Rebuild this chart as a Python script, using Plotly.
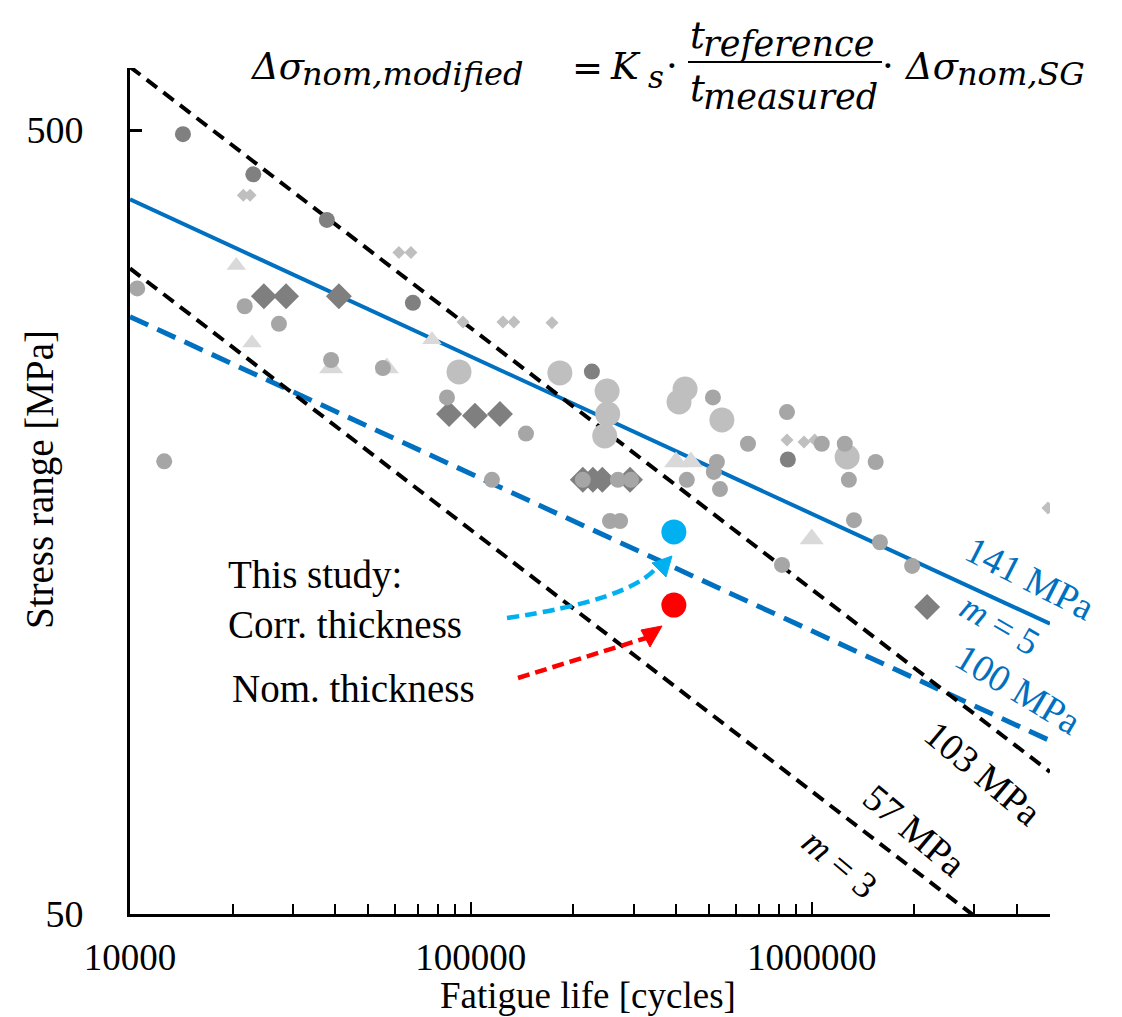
import plotly.graph_objects as go

# ---------------- data ----------------
# design / fit lines (end points)
N_line = [1e4, 5e6]
S_141_m5 = [408, 117.3]
S_100_m5 = [289, 83.2]
S_103_m3 = [602, 75.9]
N_line57 = [1e4, 3.0e6]
S_57_m3 = [333, 49.7]

# literature data
dark_circ_N = [14300, 23000, 37800, 67600, 226500, 851000]
dark_circ_S = [494, 439, 384, 301, 246, 190]

med_circ_N = [10500, 12600, 21700, 27350, 38900, 55200, 85100, 145100, 115300, 213000,
              270000, 295000, 256000, 274000, 430000, 513000, 527000, 516000, 538000,
              650000, 846000, 1070000, 1250000, 1540000, 1285000, 1330000, 1585000,
              1970000, 818000]
med_circ_S = [314, 189, 298, 283, 254.5, 248.6, 228, 205, 179, 179,
              179, 179, 158.6, 158.6, 179, 228, 188.6, 183.2, 174.2,
              199, 218.4, 199, 199, 188.6, 179, 159, 149,
              139, 139.4]

big_circ_N = [92300, 182400, 251000, 252000, 247000, 425000, 408000, 545000, 1270000]
big_circ_S = [245.7, 245, 232.3, 217.2, 203.6, 233.7, 225, 213.4, 191.4]

small_dia_N = [21500, 22500, 61500, 66700, 94800, 124200, 133700, 173000,
               846000, 949000, 1020000, 4930000]
small_dia_S = [413, 413, 349, 349, 284.5, 284.5, 284.5, 284,
               201.2, 200, 201.2, 164.8]

big_dia_N = [24700, 28700, 41000, 86300, 102800, 121700, 213000, 228000, 243000, 293000, 2180000]
big_dia_S = [307, 307, 307, 217.2, 216, 217.2, 179, 179, 179, 179, 123.2]

small_tri_N = [20500, 22800, 76900]
small_tri_S = [336, 267.5, 270]
big_tri_N = [38900, 56700, 400000, 442000, 1000000]
big_tri_S = [248.6, 248.6, 188.6, 188.6, 150.4]

# this study
study_corr_N = [394000]
study_corr_S = [153.6]
study_nom_N = [394000]
study_nom_S = [123.9]

x_tickvals = [1e4, 1e5, 1e6]
x_ticktext = ["10000", "100000", "1000000"]
y_tickvals = [50, 500]
y_ticktext = ["50", "500"]

# ---------------- layout helpers (pixel -> paper) ----------------
W, H = 1122, 1017
L, R, T, B = 130, 1050, 68, 914


def px(x):
    return (x - L) / (R - L)


def py(y):
    return (B - y) / (B - T)


SERIF = "Liberation Serif"
MATH = "DejaVu Serif"
BLUE = "#0070C0"

fig = go.Figure()

# lines
fig.add_trace(go.Scatter(x=N_line, y=S_141_m5, mode="lines",
                         line=dict(color=BLUE, width=4), hoverinfo="skip"))
fig.add_trace(go.Scatter(x=N_line, y=S_100_m5, mode="lines",
                         line=dict(color=BLUE, width=5, dash="20px,10px"), hoverinfo="skip"))
fig.add_trace(go.Scatter(x=N_line, y=S_103_m3, mode="lines",
                         line=dict(color="black", width=4, dash="13px,8px"), hoverinfo="skip"))
fig.add_trace(go.Scatter(x=N_line57, y=S_57_m3, mode="lines",
                         line=dict(color="black", width=4, dash="13px,8px"), hoverinfo="skip"))

# markers
fig.add_trace(go.Scatter(x=small_tri_N, y=small_tri_S, mode="markers",
                         marker=dict(symbol="triangle-up", size=17, color="#D9D9D9")))
fig.add_trace(go.Scatter(x=big_tri_N, y=big_tri_S, mode="markers",
                         marker=dict(symbol="triangle-up", size=21, color="#D9D9D9")))
fig.add_trace(go.Scatter(x=big_circ_N, y=big_circ_S, mode="markers",
                         marker=dict(symbol="circle", size=25, color="#BFBFBF")))
fig.add_trace(go.Scatter(x=small_dia_N, y=small_dia_S, mode="markers",
                         marker=dict(symbol="diamond", size=10, color="#BFBFBF")))
fig.add_trace(go.Scatter(x=big_dia_N, y=big_dia_S, mode="markers",
                         marker=dict(symbol="diamond", size=20, color="#7F7F7F")))
fig.add_trace(go.Scatter(x=dark_circ_N, y=dark_circ_S, mode="markers",
                         marker=dict(symbol="circle", size=16, color="#808080")))
fig.add_trace(go.Scatter(x=med_circ_N, y=med_circ_S, mode="markers",
                         marker=dict(symbol="circle", size=16, color="#A6A6A6")))
fig.add_trace(go.Scatter(x=study_corr_N, y=study_corr_S, mode="markers",
                         marker=dict(symbol="circle", size=25, color="#00B0F0")))
fig.add_trace(go.Scatter(x=study_nom_N, y=study_nom_S, mode="markers",
                         marker=dict(symbol="circle", size=25, color="#FF0000")))

minor_vals = [m * 10 ** e for e in (4, 5, 6) for m in range(2, 10) if m * 10 ** e <= 5e6]

fig.update_xaxes(type="log", range=[4, 6.69897], showline=True, linecolor="black",
                 linewidth=3, showgrid=False, zeroline=False,
                 tickmode="array", tickvals=x_tickvals, ticktext=x_ticktext,
                 ticks="inside", ticklen=12, tickwidth=2, tickcolor="black",
                 ticklabelstandoff=9,
                 tickfont=dict(family=SERIF, size=37, color="black"),
                 minor=dict(tickmode="array", tickvals=minor_vals, ticks="inside",
                            ticklen=10, tickwidth=2, tickcolor="black", showgrid=False))
fig.update_yaxes(type="log", range=[1.69897, 2.77815], showline=True, linecolor="black",
                 linewidth=3, showgrid=False, zeroline=False,
                 tickmode="array", tickvals=y_tickvals, ticktext=y_ticktext,
                 ticks="inside", ticklen=12, tickwidth=2.5, tickcolor="black",
                 ticklabelstandoff=36,
                 tickfont=dict(family=SERIF, size=38, color="black"))

ann = []


def add_text(text, x, y, size, color="black", family=SERIF, angle=0,
             xanchor="center", yanchor="middle"):
    ann.append(dict(text=text, x=px(x), y=py(y), xref="paper", yref="paper",
                    showarrow=False, xanchor=xanchor, yanchor=yanchor,
                    textangle=angle, font=dict(family=family, size=size, color=color)))


# axis titles (bottom-anchored so the box stays inside the figure)
ann.append(dict(text="Fatigue life [cycles]", x=px(588), y=py(1017), xref="paper",
                yref="paper", showarrow=False, xanchor="center", yanchor="bottom",
                borderpad=0, font=dict(family=SERIF, size=37, color="black")))
add_text("Stress range [MPa]", 40, 480, 39, angle=-90)

# study labels
add_text("This study:", 226, 575, 39, xanchor="left")
add_text("Corr. thickness", 226, 624, 39, xanchor="left")
add_text("Nom. thickness", 230, 688, 39, xanchor="left")

# line labels
add_text("141 MPa", 1030, 578, 38, color=BLUE, angle=27)
add_text("<i>m</i> = 5", 1000, 624, 37, color=BLUE, angle=30)
add_text("100 MPa", 1018, 689, 38, color=BLUE, angle=31)
add_text("103 MPa", 983, 773, 38, angle=40)
add_text("57 MPa", 914, 830, 38, angle=40)
add_text("<i>m</i> = 3", 840, 863, 37, angle=40)

# equation
add_text("<i>Δσ</i>", 248, 66, 37, family=MATH, xanchor="left")
add_text("<i>nom,modified</i>", 300, 74, 32, family=MATH, xanchor="left")
add_text("=", 570, 68, 37, family=MATH, xanchor="left")
add_text("<i>K</i>", 608, 67, 37, family=MATH, xanchor="left")
add_text("<i>s</i>", 646, 77, 31, family=MATH, xanchor="left")
add_text("·", 664, 66, 37, family=MATH, xanchor="left")
add_text("<i>t</i>", 688, 36, 37, family=MATH, xanchor="left")
add_text("<i>reference</i>", 701, 44, 35, family=MATH, xanchor="left")
add_text("<i>t</i>", 688, 88, 37, family=MATH, xanchor="left")
add_text("<i>measured</i>", 701, 97, 35, family=MATH, xanchor="left")
add_text("·", 880, 66, 37, family=MATH, xanchor="left")
add_text("<i>Δσ</i>", 902, 66, 37, family=MATH, xanchor="left")
add_text("<i>nom,SG</i>", 955, 74, 32, family=MATH, xanchor="left")

shapes = []
# fraction bar
shapes.append(dict(type="line", xref="paper", yref="paper",
                   x0=px(688), x1=px(882), y0=py(62), y1=py(62),
                   line=dict(color="black", width=2)))


def P(x, y):
    return f"{px(x):.5f},{py(y):.5f}"


# cyan curved dashed arrow
shapes.append(dict(type="path", xref="paper", yref="paper",
                   path=f"M {P(507, 618)} Q {P(630, 600)} {P(657, 567)}",
                   line=dict(color="#00B0F0", width=4.5, dash="12px,6px")))
shapes.append(dict(type="path", xref="paper", yref="paper",
                   path=f"M {P(672, 556)} L {P(652, 563)} L {P(666, 577)} Z",
                   fillcolor="#00B0F0", line=dict(color="#00B0F0", width=1)))
# red dashed arrow
shapes.append(dict(type="path", xref="paper", yref="paper",
                   path=f"M {P(518, 678)} L {P(646, 638)}",
                   line=dict(color="#FF0000", width=4.5, dash="12px,6px")))
shapes.append(dict(type="path", xref="paper", yref="paper",
                   path=f"M {P(662, 626)} L {P(641, 630)} L {P(650, 647)} Z",
                   fillcolor="#FF0000", line=dict(color="#FF0000", width=1)))

fig.update_layout(width=W, height=H, margin=dict(l=L, r=W - R, t=T, b=H - B),
                  paper_bgcolor="white", plot_bgcolor="white", showlegend=False,
                  annotations=ann, shapes=shapes)

fig.write_html("out.html")
